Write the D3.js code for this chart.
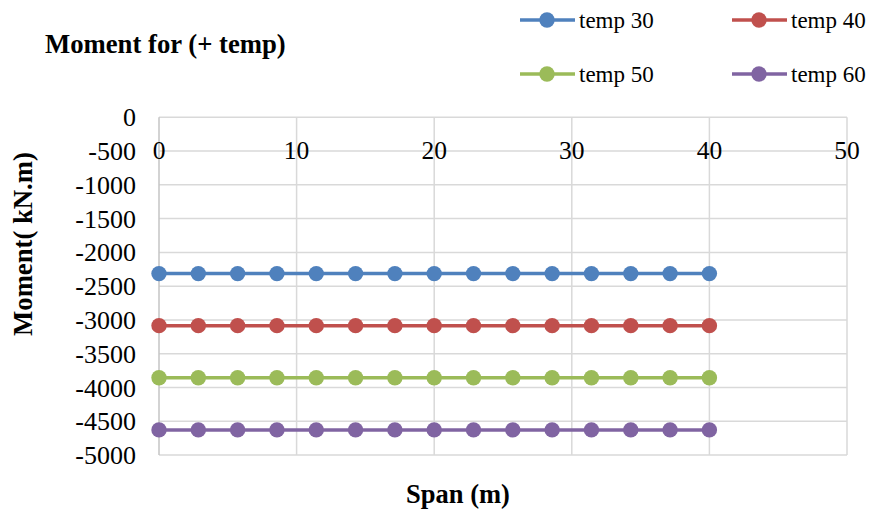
<!DOCTYPE html>
<html><head><meta charset="utf-8">
<script src="https://cdn.jsdelivr.net/npm/d3@7"></script>
<style>body{margin:0;background:#fff}svg{display:block}</style>
</head><body>
<svg id="c" width="872" height="511" font-family="'Times New Roman', 'Liberation Serif', 'DejaVu Serif', serif"></svg>
<script>
const spans = [0, 2.857, 5.714, 8.571, 11.429, 14.286, 17.143, 20, 22.857, 25.714, 28.571, 31.429, 34.286, 37.143, 40];
const seriesNames = ["temp 30", "temp 40", "temp 50", "temp 60"];
const temp30 = [-2314,-2314,-2314,-2314,-2314,-2314,-2314,-2314,-2314,-2314,-2314,-2314,-2314,-2314,-2314];
const temp40 = [-3085,-3085,-3085,-3085,-3085,-3085,-3085,-3085,-3085,-3085,-3085,-3085,-3085,-3085,-3085];
const temp50 = [-3857,-3857,-3857,-3857,-3857,-3857,-3857,-3857,-3857,-3857,-3857,-3857,-3857,-3857,-3857];
const temp60 = [-4628,-4628,-4628,-4628,-4628,-4628,-4628,-4628,-4628,-4628,-4628,-4628,-4628,-4628,-4628];
const xTicks = [0, 10, 20, 30, 40, 50];
const yTicks = [0,-500,-1000,-1500,-2000,-2500,-3000,-3500,-4000,-4500,-5000];
const colors = ["#4F81BD", "#C0504D", "#9BBB59", "#8064A2"];
const allSeries = [temp30, temp40, temp50, temp60];

const svg = d3.select("#c");
const x = d3.scaleLinear().domain([0, 50]).range([159, 847]);
const y = d3.scaleLinear().domain([0, -5000]).range([117.3, 455]);

// gridlines
svg.append("g").selectAll("line").data(yTicks).join("line")
  .attr("x1", x(0)).attr("x2", x(50)).attr("y1", d => y(d)).attr("y2", d => y(d))
  .attr("stroke", "#d9d9d9").attr("stroke-width", 1.5);
svg.append("g").selectAll("line").data(xTicks).join("line")
  .attr("x1", d => x(d)).attr("x2", d => x(d)).attr("y1", y(0)).attr("y2", y(-5000))
  .attr("stroke", d => d === 0 ? "#c4c4c4" : "#d9d9d9").attr("stroke-width", 1.5);

// y tick labels
svg.append("g").selectAll("text").data(yTicks).join("text")
  .attr("x", 136).attr("y", d => y(d)).attr("dy", "0.35em")
  .attr("text-anchor", "end").attr("font-size", 26).attr("fill", "#000")
  .text(d => d);

// x tick labels (shown at top)
svg.append("g").selectAll("text").data(xTicks).join("text")
  .attr("x", d => x(d)).attr("y", 150).attr("dy", "0.35em")
  .attr("text-anchor", "middle").attr("font-size", 25.5).attr("fill", "#000")
  .text(d => d);

// series
const line = d3.line().x((d, i) => x(spans[i])).y(d => y(d));
allSeries.forEach((s, k) => {
  const g = svg.append("g");
  g.append("path").datum(s).attr("d", line).attr("fill", "none")
    .attr("stroke", colors[k]).attr("stroke-width", 3.5);
  g.selectAll("circle").data(s).join("circle")
    .attr("cx", (d, i) => x(spans[i])).attr("cy", d => y(d)).attr("r", 7.7)
    .attr("fill", colors[k]);
});

// title
svg.append("text").attr("x", 45).attr("y", 53).attr("font-size", 26.7).attr("font-weight", "bold")
  .text("Moment for (+ temp)");
// axis titles
svg.append("text").attr("transform", "translate(32,244) rotate(-90)").attr("text-anchor", "middle")
  .attr("font-size", 26.7).attr("font-weight", "bold").text("Moment( kN.m)");
svg.append("text").attr("x", 458).attr("y", 503).attr("text-anchor", "middle")
  .attr("font-size", 26.5).attr("font-weight", "bold").text("Span (m)");

// legend
const legPos = [[520, 20], [732, 20], [520, 74], [732, 74]];
seriesNames.forEach((n, k) => {
  const [lx, ly] = legPos[k];
  svg.append("line").attr("x1", lx).attr("x2", lx + 55).attr("y1", ly).attr("y2", ly)
    .attr("stroke", colors[k]).attr("stroke-width", 3.5);
  svg.append("circle").attr("cx", lx + 27).attr("cy", ly).attr("r", 7.7).attr("fill", colors[k]);
  svg.append("text").attr("x", lx + 59).attr("y", ly).attr("dy", "0.35em").attr("font-size", 23).text(n);
});
</script>
</body></html>
